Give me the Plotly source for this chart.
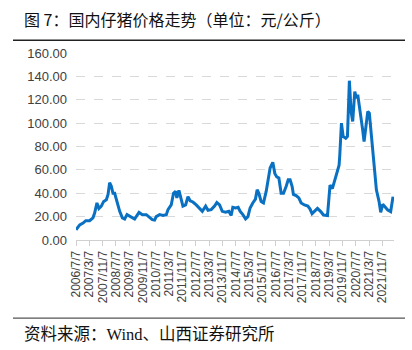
import plotly.graph_objects as go
from datetime import date

dates = [
    "2006-07-07", "2006-09-13", "2006-11-13", "2007-01-01", "2007-03-13", "2007-05-13",
    "2007-06-13", "2007-07-25", "2007-08-30", "2007-10-13", "2007-11-25", "2008-01-13",
    "2008-02-13", "2008-03-13", "2008-04-13", "2008-05-13", "2008-06-13", "2008-07-25",
    "2008-09-13", "2008-11-01", "2008-12-13", "2009-01-25", "2009-04-13", "2009-06-13",
    "2009-09-01", "2009-11-01", "2010-01-13", "2010-03-13", "2010-05-01", "2010-06-13",
    "2010-07-13", "2010-09-13", "2010-11-13", "2011-01-13", "2011-02-13", "2011-04-13",
    "2011-05-25", "2011-07-01", "2011-07-25", "2011-09-01", "2011-10-13", "2011-11-13",
    "2012-01-01", "2012-02-13", "2012-03-25", "2012-05-13", "2012-07-13", "2012-09-13",
    "2012-11-01", "2013-01-01", "2013-02-13", "2013-04-13", "2013-06-13", "2013-07-25",
    "2013-09-13", "2013-11-01", "2014-01-01", "2014-03-01", "2014-04-13", "2014-05-13",
    "2014-07-01", "2014-08-19", "2014-09-25", "2014-11-13", "2015-01-01", "2015-02-13",
    "2015-03-25", "2015-05-13", "2015-07-01", "2015-08-01", "2015-09-01", "2015-10-13",
    "2015-11-25", "2016-01-13", "2016-02-13", "2016-03-25", "2016-05-13", "2016-06-19",
    "2016-07-25", "2016-09-01", "2016-10-13", "2016-11-25", "2017-01-13", "2017-02-19",
    "2017-03-25", "2017-05-01", "2017-05-25", "2017-07-13", "2017-09-01", "2017-10-13",
    "2017-12-13", "2018-02-13", "2018-03-25", "2018-05-01", "2018-06-13", "2018-08-07",
    "2018-10-07", "2018-11-25", "2019-02-07", "2019-03-25", "2019-05-07", "2019-06-13",
    "2019-08-07", "2019-09-07", "2019-09-20", "2019-10-20", "2019-11-20", "2020-01-07",
    "2020-02-07", "2020-03-13", "2020-04-13", "2020-05-13", "2020-06-20", "2020-07-20",
    "2020-08-13", "2020-09-20", "2020-11-07", "2020-12-07", "2021-01-13", "2021-02-13",
    "2021-03-13", "2021-04-20", "2021-06-07", "2021-07-20", "2021-09-07", "2021-10-07",
    "2021-11-13", "2022-01-07", "2022-02-13", "2022-04-07", "2022-05-20",
]
prices = [
    8.8, 13.0, 14.5, 16.5, 16.5, 19.0,
    23.0, 31.7, 27.0, 29.0, 33.0, 34.5,
    39.0, 49.0, 46.0, 40.0, 40.0, 32.0,
    24.5, 19.0, 18.0, 21.7, 20.0, 18.0,
    23.6, 21.7, 21.7, 19.0, 17.4, 17.0,
    20.0, 21.7, 21.0, 21.7, 26.0, 30.0,
    40.0, 41.6, 36.0, 42.5, 33.0, 29.0,
    30.0, 37.0, 33.6, 32.5, 30.0, 27.0,
    24.5, 29.0, 25.4, 26.0, 29.0, 32.0,
    30.0, 24.5, 23.7, 24.5, 21.0, 28.0,
    27.4, 28.0, 24.5, 21.7, 18.0, 20.0,
    27.4, 31.7, 35.0, 43.0, 40.0, 33.0,
    31.7, 41.6, 51.6, 61.6, 66.5, 57.0,
    54.0, 53.0, 40.0, 40.0, 46.0, 51.6,
    51.6, 46.0, 39.0, 38.0, 36.0, 31.7,
    30.0, 29.0, 26.5, 22.5, 24.5, 27.1,
    24.3, 21.4, 20.9, 47.0, 44.0, 50.0,
    58.6, 64.0, 72.9, 100.0, 88.6, 87.1,
    88.6, 136.3, 110.0, 101.4, 127.0, 121.4,
    124.3, 112.9, 95.7, 84.3, 101.4, 110.0,
    108.6, 90.0, 64.3, 42.9, 32.9, 23.7,
    30.6, 27.1, 25.7, 24.3, 37.1,
]
tick_labels = [
    "2006/7/7", "2007/3/7", "2007/11/7", "2008/7/7", "2009/3/7", "2009/11/7",
    "2010/7/7", "2011/3/7", "2011/11/7", "2012/7/7", "2013/3/7", "2013/11/7",
    "2014/7/7", "2015/3/7", "2015/11/7", "2016/7/7", "2017/3/7", "2017/11/7",
    "2018/7/7", "2019/3/7", "2019/11/7", "2020/7/7", "2021/3/7", "2021/11/7",
]
y_ticks = [0, 20, 40, 60, 80, 100, 120, 140, 160]

title_text = "图 7：国内仔猪价格走势（单位：元/公斤）"
source_text = "资料来源：Wind、山西证券研究所"


def to_iso(lbl):
    y, m, d = lbl.split("/")
    return date(int(y), int(m), int(d)).isoformat()


tick_vals = [to_iso(t) for t in tick_labels]

fig = go.Figure()
fig.add_trace(go.Scatter(
    x=dates, y=prices, mode="lines",
    line=dict(color="#0A70C2", width=3),
    hoverinfo="skip", showlegend=False,
))

# plot area geometry (pixels) for paper-coordinate conversions
L, R, T, B = 76, 394, 53.3, 240.0
W, H = R - L, B - T


def px(xp):
    return (xp - L) / W


def py(yp):
    return (B - yp) / H


fig.update_layout(
    width=412, height=350,
    margin=dict(l=L, r=412 - R, t=T, b=350 - B),
    paper_bgcolor="white", plot_bgcolor="white",
    font=dict(family="Liberation Sans, Arial, sans-serif", color="#404040"),
    xaxis=dict(
        type="date",
        range=["2006-07-07", "2022-06-07"],
        tickmode="array", tickvals=tick_vals, ticktext=tick_labels,
        tickangle=-90, tickfont=dict(size=12, color="#404040"),
        ticks="outside", ticklen=5, tickcolor="#d0d0d0", tickwidth=1,
        showline=True, linecolor="#d0d0d0", linewidth=1,
        showgrid=False, zeroline=False,
    ),
    yaxis=dict(
        range=[0, 160], tickmode="array", tickvals=y_ticks,
        ticktext=[f"{v:.2f}" for v in y_ticks],
        tickfont=dict(size=13, color="#404040"),
        showgrid=True, gridcolor="#d9d9d9", griddash="dash", gridwidth=1,
        zeroline=False, showline=False, ticks="", ticklabelstandoff=8,
    ),
    shapes=[
        dict(type="line", xref="paper", yref="paper",
             x0=px(13), x1=px(405), y0=py(40.5), y1=py(40.5),
             line=dict(color="#222222", width=1.5)),
        dict(type="line", xref="paper", yref="paper",
             x0=px(13), x1=px(405), y0=py(318), y1=py(318),
             line=dict(color="#555555", width=1.2)),
    ],
    annotations=[
        dict(text=title_text, xref="paper", yref="paper",
             x=px(22), y=py(19), xanchor="left", yanchor="middle",
             showarrow=False,
             font=dict(family="Noto Sans CJK SC", size=16, color="#111111")),
        dict(text=source_text, xref="paper", yref="paper",
             x=px(22), y=py(334), xanchor="left", yanchor="middle",
             showarrow=False,
             font=dict(family="Liberation Serif, Noto Sans CJK SC", size=16.5, color="#111111")),
    ],
)

fig.write_html("out.html")
